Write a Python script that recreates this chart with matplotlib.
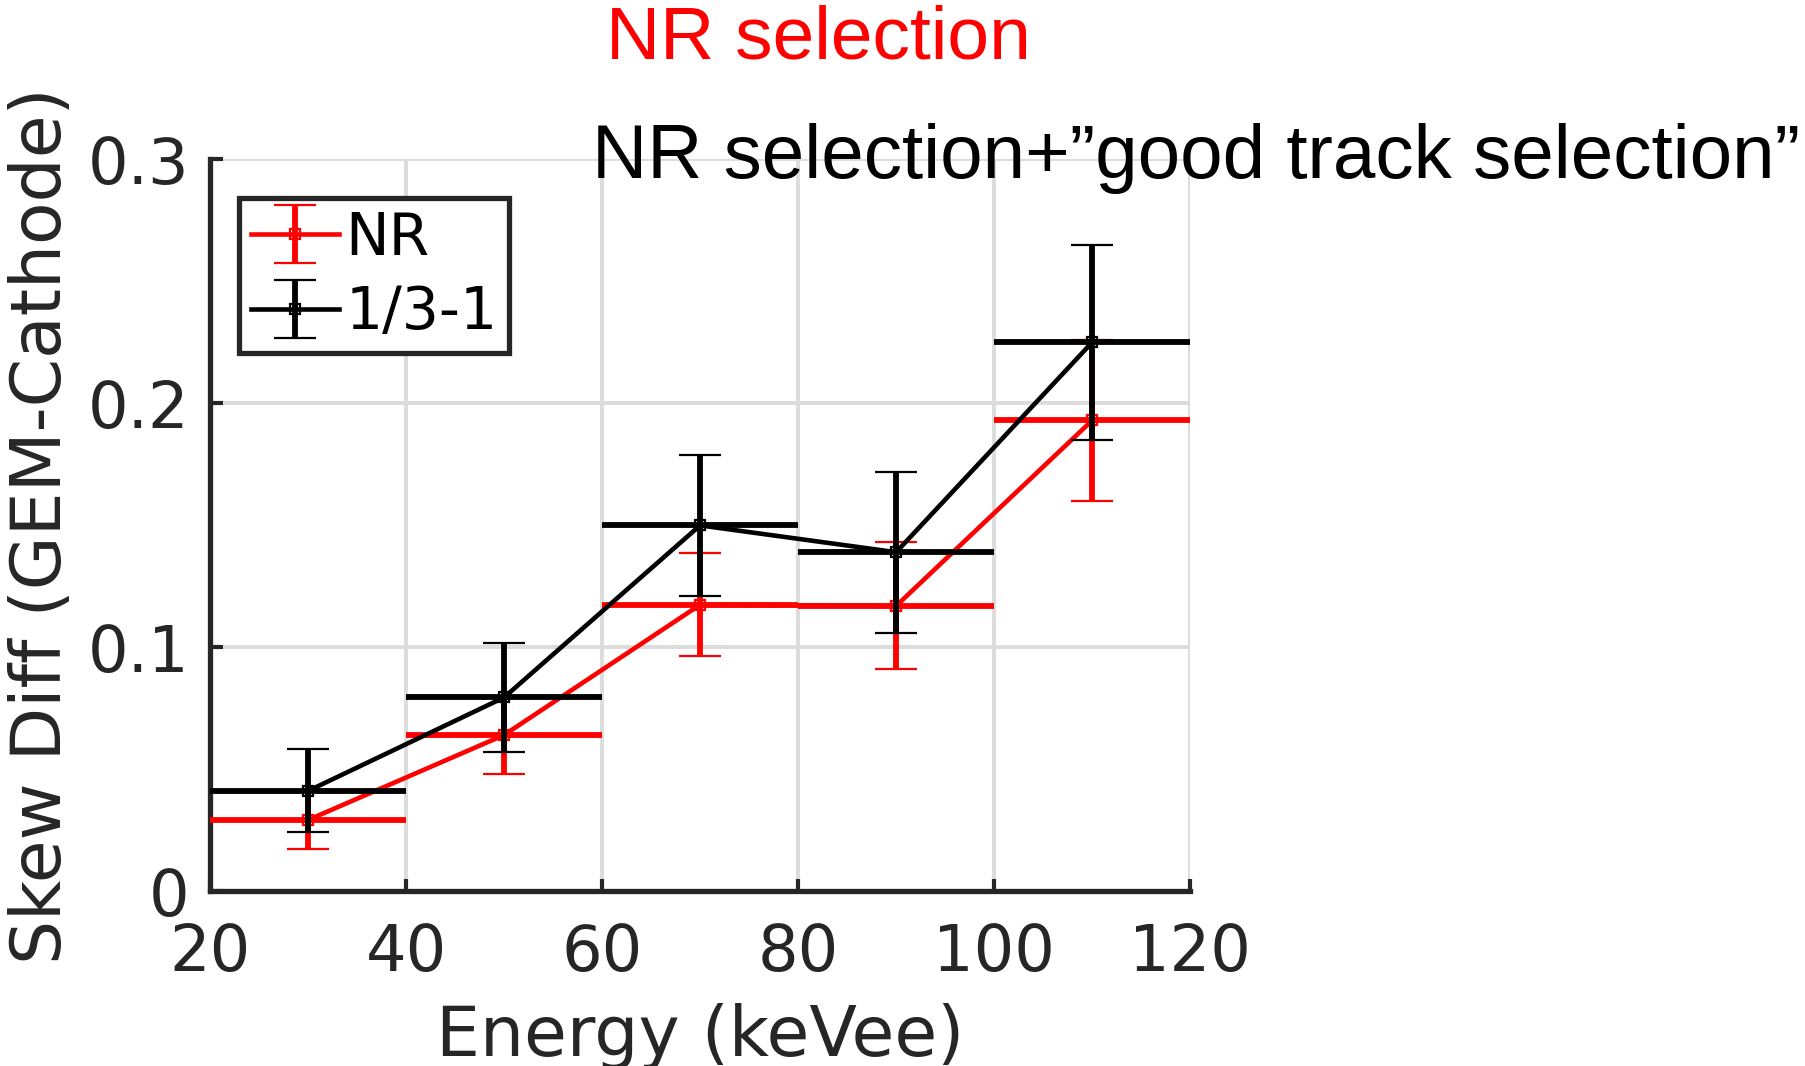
import numpy as np
import matplotlib.pyplot as plt

# skewness difference per energy bin
energy = [30, 50, 70, 90, 110]
energy_err = [10, 10, 10, 10, 10]
nr_skew = [0.0293, 0.0641, 0.1175, 0.117, 0.193]
nr_err = [0.012, 0.016, 0.021, 0.026, 0.033]
good_skew = [0.0412, 0.0795, 0.150, 0.139, 0.225]
good_err = [0.017, 0.0225, 0.029, 0.033, 0.040]

xticks = [20, 40, 60, 80, 100, 120]
yticks = [0, 0.1, 0.2, 0.3]

axis_col = '#262626'

fig = plt.figure(figsize=(18.06, 10.66), dpi=100)
ax = fig.add_axes([0.1163, 0.1637, 0.5427, 0.6869])

series = [(nr_skew, nr_err, '#ff0000', 'NR', 3),
          (good_skew, good_err, 'black', '1/3-1', 4)]
for vals, err, col, lab, z in series:
    # bin width as horizontal bars, no caps
    ax.errorbar(energy, vals, xerr=energy_err, fmt='none', ecolor=col,
                elinewidth=4.2, capsize=0, zorder=z)
    ax.errorbar(energy, vals, yerr=err, color=col, lw=3.3, marker='s', ms=7,
                mfc='none', mew=1.6, elinewidth=4.2, capsize=15, capthick=4.0,
                label=lab, zorder=z)

ax.set_xlim(20, 120)
ax.set_ylim(0, 0.3)
ax.set_xticks(xticks)
ax.set_yticks(yticks)
ax.set_yticklabels(['0', '0.1', '0.2', '0.3'])
ax.grid(True, color='#dcdcdc', lw=2.8)
ax.set_axisbelow(True)

for s in ['top', 'right']:
    ax.spines[s].set_visible(False)
for s in ['left', 'bottom']:
    ax.spines[s].set_linewidth(3.8)
    ax.spines[s].set_color(axis_col)

ax.tick_params(direction='in', length=9, width=3, colors=axis_col,
               labelsize=46, pad=15)
ax.tick_params(axis='x', pad=22)

ax.set_xlabel('Energy (keVee)', fontsize=50, color=axis_col, labelpad=14)
ax.set_ylabel('Skew Diff (GEM-Cathode)', fontsize=50, color=axis_col, labelpad=9)

leg = ax.legend(loc='upper left', bbox_to_anchor=(0.03, 0.947), fontsize=42,
                fancybox=False, framealpha=1, edgecolor=axis_col,
                handlelength=1.5, handletextpad=0.12, borderpad=0.2,
                labelspacing=0.3, borderaxespad=0)
leg.get_frame().set_linewidth(3.8)

fig.text(0.453, 0.963, 'NR selection', color='#ff0000', fontsize=54,
         family='Liberation Sans', ha='center', va='center')
fig.text(0.328, 0.851, 'NR selection+\u201dgood track selection\u201d', color='black',
         fontsize=55, family='Liberation Sans', ha='left', va='center')

fig.savefig('out.png', dpi=100)
